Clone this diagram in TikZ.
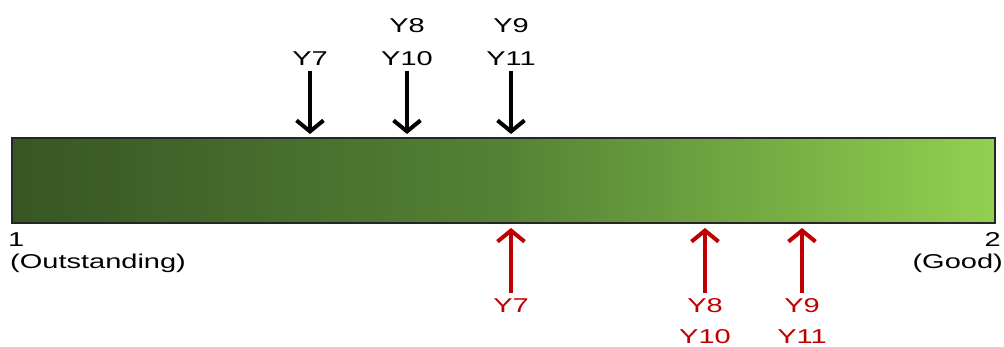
\documentclass[tikz,border=0pt]{standalone}
\usepackage{fontspec}
\setmainfont{Liberation Sans}
\newfontfamily\widefont[FakeStretch=1.45]{Liberation Sans}
\usetikzlibrary{arrows.meta}
\definecolor{gdark}{HTML}{375623}
\definecolor{gmid}{HTML}{548235}
\definecolor{glight}{HTML}{92D050}
\definecolor{ared}{HTML}{C00000}
\definecolor{edge}{HTML}{262626}
\begin{document}
\begin{tikzpicture}[x=1pt,y=-1pt,
  lbl/.style={font=\widefont\fontsize{20}{24}\selectfont, inner sep=0pt, anchor=base},
  blk/.style={lbl, text=black},
  rd/.style={lbl, text=ared},
  ptr/.style={line width=4pt, -{Straight Barb[length=11pt,width=27pt,line width=4pt]}},
  bar/.style={draw=edge, line width=1.5pt, left color=gdark, right color=glight, middle color=gmid,
    minimum width=983pt, minimum height=85pt, inner sep=0pt, rectangle}]
\useasboundingbox (0,0) rectangle (1004,347);
\node[bar] (bar) at (503.5,180.5) {};
% top labels
\node[blk] (t7) at (310,65.5) {Y7};
\node[blk] (t8) at (407,32.5) {Y8};
\node[blk] (t10) at (407,65.5) {Y10};
\node[blk] (t9) at (511,32.5) {Y9};
\node[blk] (t11) at (511,65.5) {Y11};
\coordinate (ta7s) at (310,71);
\coordinate (ta7e) at (310,134);
\coordinate (ta10s) at (407,71);
\coordinate (ta10e) at (407,134);
\coordinate (ta11s) at (511,71);
\coordinate (ta11e) at (511,134);
\draw[ptr, black] (ta7s) -- (ta7e);
\draw[ptr, black] (ta10s) -- (ta10e);
\draw[ptr, black] (ta11s) -- (ta11e);
% bottom labels
\node[rd] (b7) at (511,312.5) {Y7};
\node[rd] (b8) at (705,312.5) {Y8};
\node[rd] (b10) at (705,344) {Y10};
\node[rd] (b9) at (802,312.5) {Y9};
\node[rd] (b11) at (802,344) {Y11};
\coordinate (ba7s) at (511,293);
\coordinate (ba7e) at (511,228);
\coordinate (ba8s) at (705,293);
\coordinate (ba8e) at (705,228);
\coordinate (ba9s) at (802,293);
\coordinate (ba9e) at (802,228);
\draw[ptr, ared] (ba7s) -- (ba7e);
\draw[ptr, ared] (ba8s) -- (ba8e);
\draw[ptr, ared] (ba9s) -- (ba9e);
% scale ends
\node[blk, anchor=base west] (one) at (8,247) {1};
\node[blk, anchor=base west] (outst) at (10,268.5) {(Outstanding)};
\node[blk, anchor=base east] (two) at (1001,246.5) {2};
\node[blk, anchor=base east] (good) at (1003,268.5) {(Good)};
\end{tikzpicture}
\end{document}
